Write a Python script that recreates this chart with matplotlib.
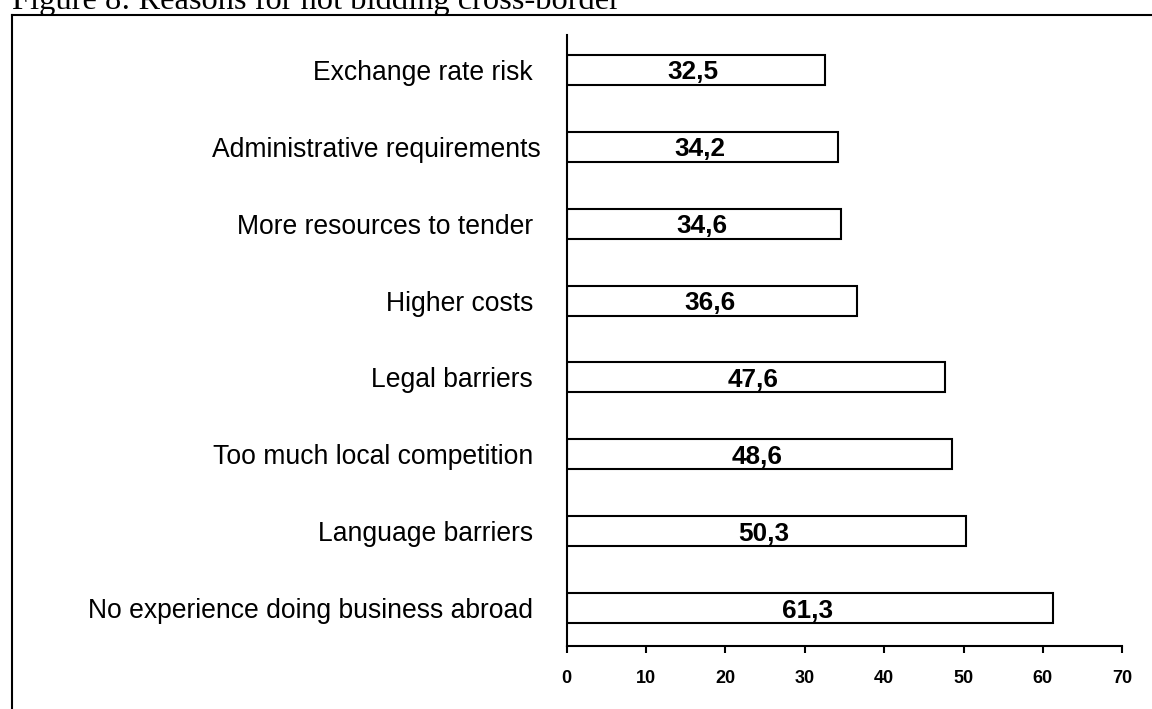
import numpy as np
import matplotlib
matplotlib.use('Agg')
import matplotlib.pyplot as plt
from matplotlib.lines import Line2D

# data, top to bottom as in the figure
reasons = ['Exchange rate risk ', 'Administrative requirements', 'More resources to tender ',
           'Higher costs ', 'Legal barriers ', 'Too much local competition ',
           'Language barriers ', 'No experience doing business abroad ']
values = [32.5, 34.2, 34.6, 36.6, 47.6, 48.6, 50.3, 61.3]
xticks = [0, 10, 20, 30, 40, 50, 60, 70]
title = 'Figure 8: Reasons for not bidding cross-border'

plt.rcParams['font.family'] = ['Liberation Sans', 'DejaVu Sans']

fig = plt.figure(figsize=(11.52, 7.09), dpi=100)
W, H = 1152, 709

# outer frame (only top and left edges show inside the picture)
fig.add_artist(Line2D([12/W, 12/W], [0, 1-14.5/H], transform=fig.transFigure, color='black', lw=1.5))
fig.add_artist(Line2D([12/W, 1], [1-14.5/H, 1-14.5/H], transform=fig.transFigure, color='black', lw=1.5))
fig.text(12/W, 1-9.5/H, title, family='Liberation Serif', fontsize=23.4, va='baseline', ha='left')

ax = fig.add_axes([566.7/W, 63/H, 555.6/W, 611/H])
y = np.arange(len(values))[::-1]
ax.barh(y, values, height=0.39, color='white', edgecolor='black', linewidth=1.5)
for yi, v in zip(y, values):
    ax.text(v/2 - 0.3, yi, f'{v:.1f}'.replace('.', ','), ha='center', va='center_baseline',
            fontsize=18.8, fontweight='bold')

ax.set_xlim(0, 70)
ax.set_ylim(-0.494, 7.455)
ax.set_xticks(xticks)
ax.set_xticklabels([str(t) for t in xticks], fontsize=13, fontweight='bold')
ax.set_yticks(y)
ax.set_yticklabels(reasons, fontsize=19.1)
ax.tick_params(axis='x', direction='out', length=5, width=1.5, pad=12)
ax.tick_params(axis='y', length=0, pad=19)
for s in ['top', 'right']:
    ax.spines[s].set_visible(False)
for s in ['left', 'bottom']:
    ax.spines[s].set_linewidth(1.5)

fig.savefig('out.png', dpi=100)
